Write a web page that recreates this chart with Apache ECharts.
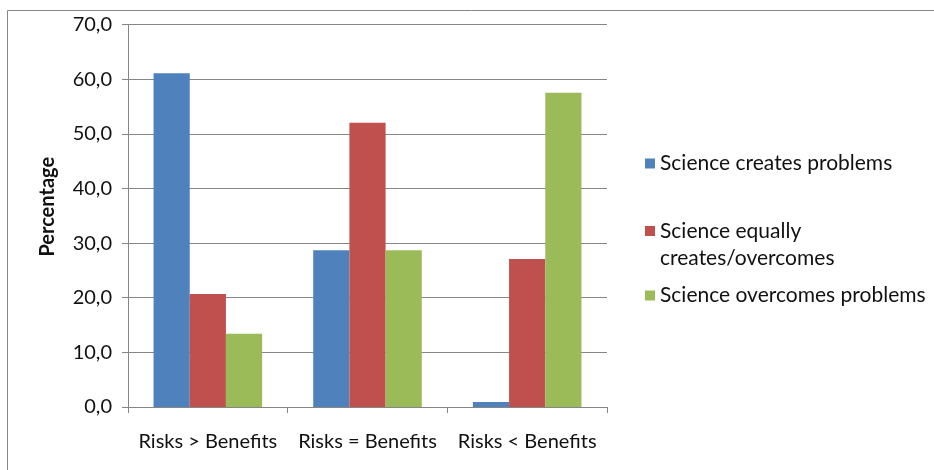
<!DOCTYPE html>
<html>
<head>
<meta charset="utf-8">
<script src="https://cdn.jsdelivr.net/npm/echarts@6/dist/echarts.min.js"></script>
<style>
  html, body { margin: 0; padding: 0; background: #fff; }
  #main { width: 934px; height: 470px; }
</style>
</head>
<body>
<div id="main"></div>
<script>
const categories = ['Risks > Benefits', 'Risks = Benefits', 'Risks < Benefits'];
const seriesNames = ['Science creates problems', 'Science equally\ncreates/overcomes', 'Science overcomes problems'];
const createsProblems = [61.1, 28.7, 0.9];
const equally = [20.7, 52.0, 27.1];
const overcomesProblems = [13.4, 28.7, 57.5];
const colors = ['#4F81BD', '#C0504D', '#9BBB59'];

const font = 'Lato, "Open Sans", sans-serif';
const gray = '#868686';

const chart = echarts.init(document.getElementById('main'));

// one legend per entry so the uneven spacing of the original can be kept
const legendTops = [150, 190.5, 282];
const legends = seriesNames.map((name, i) => ({
  data: [name],
  left: 645,
  top: legendTops[i],
  padding: 0,
  itemWidth: 10,
  itemHeight: 10,
  icon: 'rect',
  selectedMode: false,
  // blank first line keeps the marker level with the first text line
  formatter: n => (n.indexOf('\n') >= 0 ? ' \n' + n : n),
  textStyle: { fontFamily: font, fontSize: 21, color: '#111', lineHeight: 27 }
}));

chart.setOption({
  animation: false,
  color: colors,
  textStyle: { fontFamily: font },
  graphic: [{
    type: 'rect',
    shape: { x: 7.5, y: 10.5, width: 1000, height: 1000 },
    style: { fill: 'none', stroke: gray, lineWidth: 1 },
    silent: true
  }],
  legend: legends,
  grid: { left: 128, top: 24.5, right: 327, bottom: 63 },
  xAxis: {
    type: 'category',
    data: categories,
    axisLine: { lineStyle: { color: gray } },
    axisTick: { show: true, length: 6, lineStyle: { color: gray } },
    axisLabel: { fontFamily: font, fontSize: 20, color: '#111', margin: 25, interval: 0 }
  },
  yAxis: {
    type: 'value',
    min: 0,
    max: 70,
    interval: 10,
    name: 'Percentage',
    nameLocation: 'middle',
    nameGap: 70,
    nameRotate: 90,
    nameTextStyle: { fontFamily: font, fontSize: 20, fontWeight: 'bold', color: '#111', padding: [0, 0, 0, 18] },
    axisLine: { show: true, lineStyle: { color: gray } },
    axisTick: { show: true, length: 6, lineStyle: { color: gray } },
    splitLine: { lineStyle: { color: gray } },
    axisLabel: {
      fontFamily: font, fontSize: 20, color: '#111', margin: 16,
      formatter: v => v.toFixed(1).replace('.', ',')
    }
  },
  series: [
    { name: seriesNames[0], type: 'bar', data: createsProblems, barGap: '0%', barCategoryGap: '32%' },
    { name: seriesNames[1], type: 'bar', data: equally, barGap: '0%', barCategoryGap: '32%' },
    { name: seriesNames[2], type: 'bar', data: overcomesProblems, barGap: '0%', barCategoryGap: '32%' }
  ]
});
</script>
</body>
</html>
